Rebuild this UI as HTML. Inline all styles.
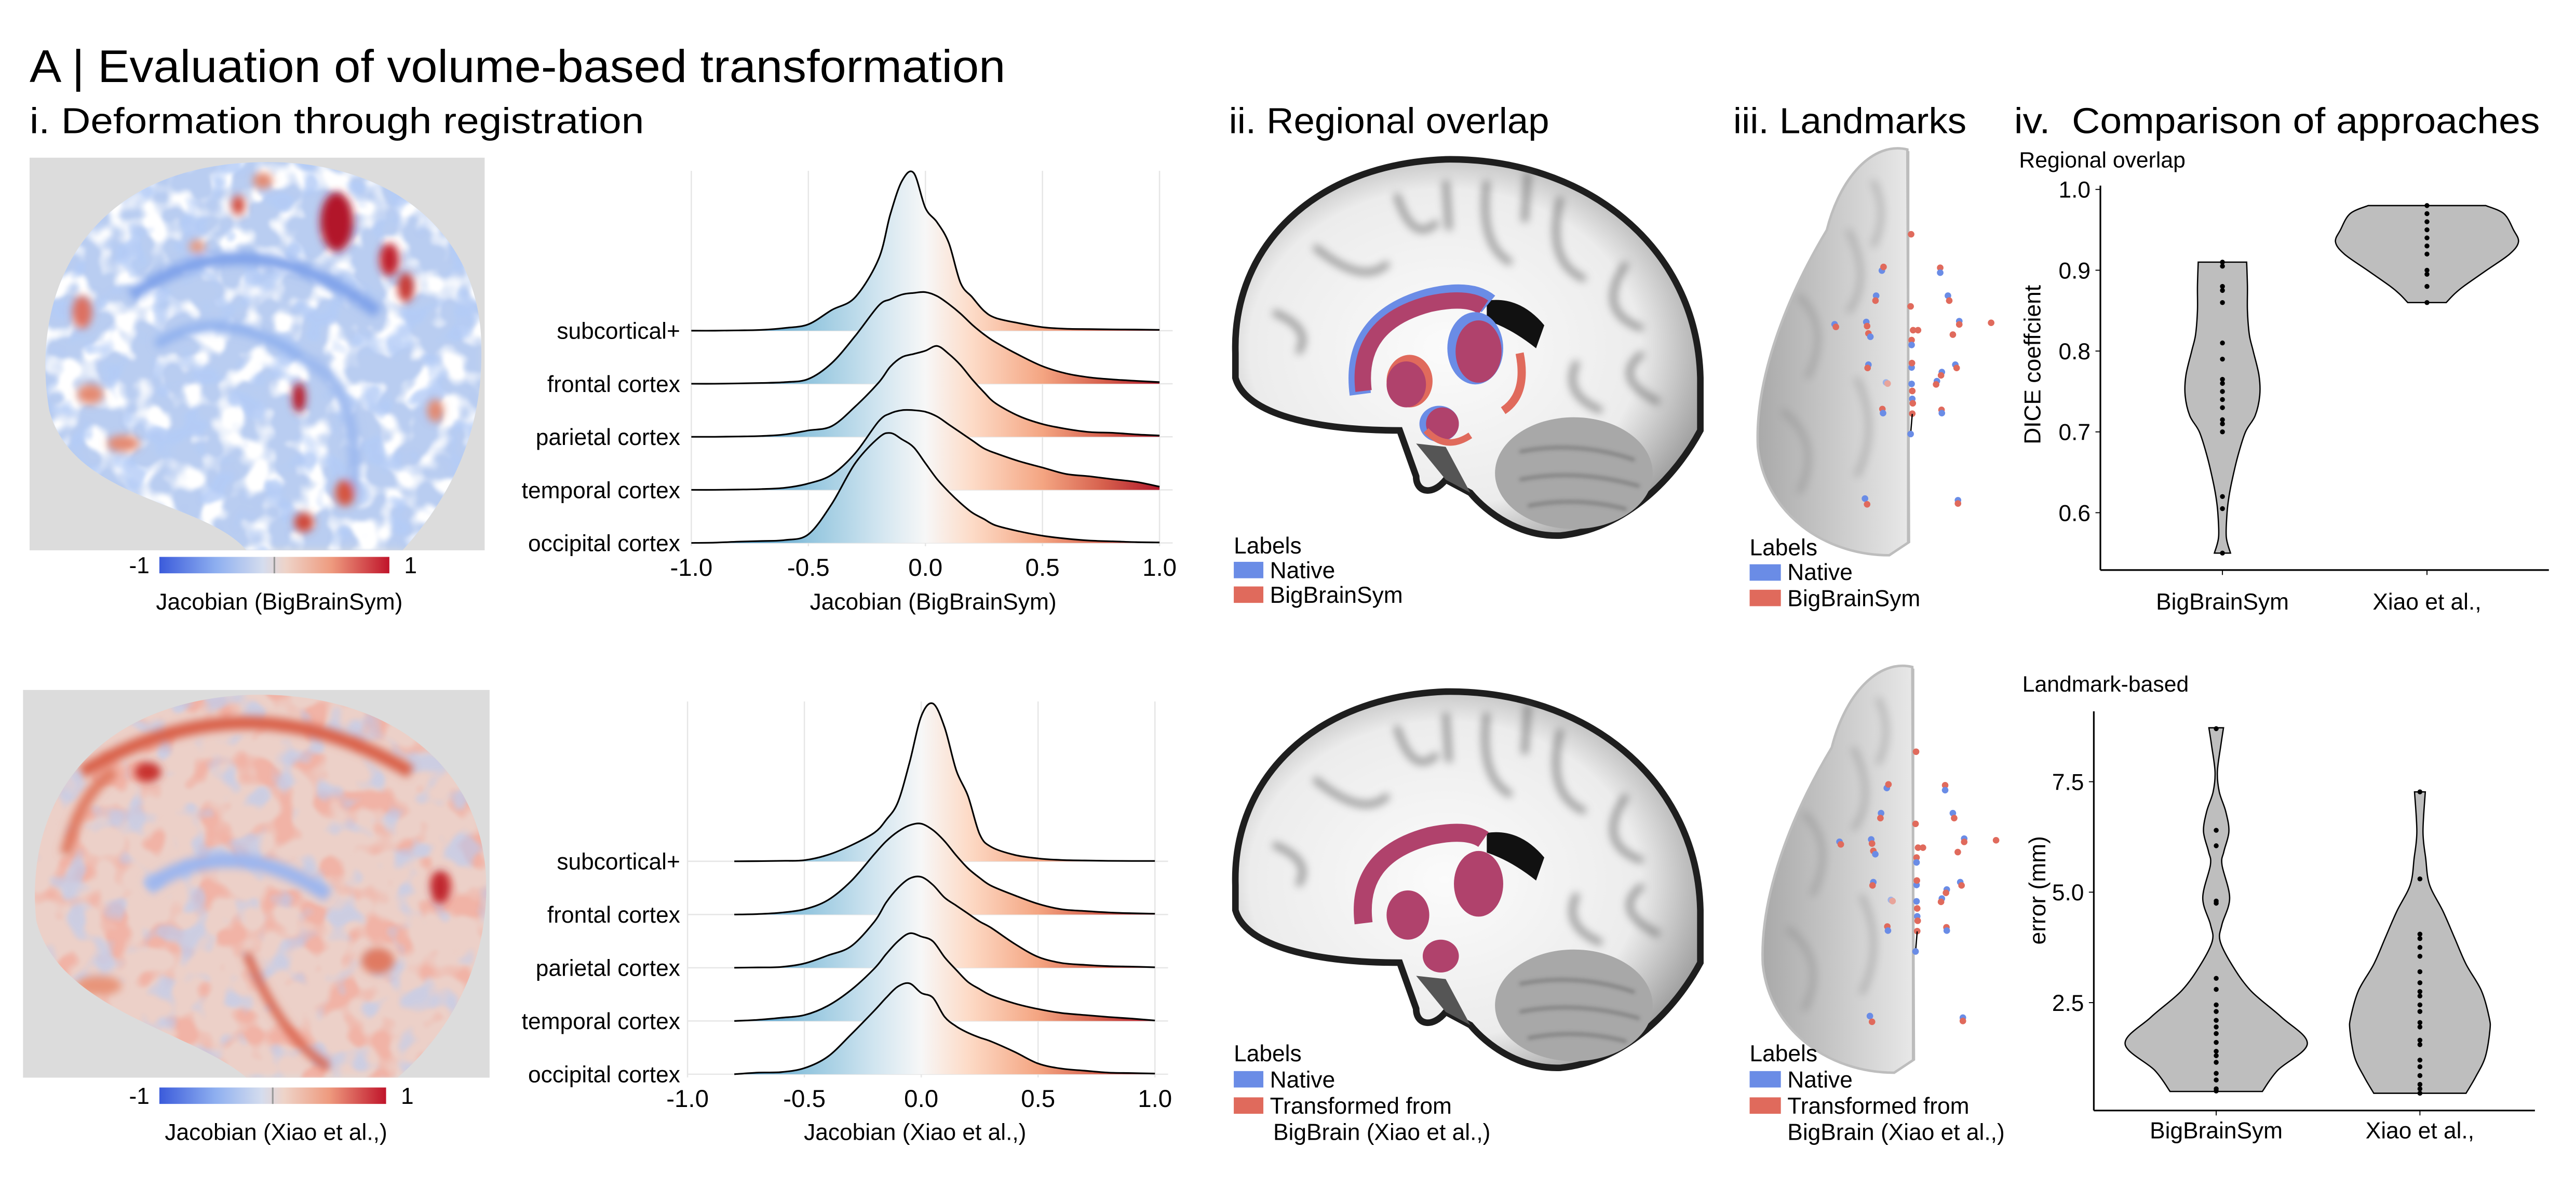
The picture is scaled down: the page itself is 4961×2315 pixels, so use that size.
<!DOCTYPE html>
<html><head><meta charset="utf-8">
<style>
html,body{margin:0;padding:0;background:#fff}
svg{display:block;font-family:"Liberation Sans",sans-serif}
</style></head>
<body>
<svg id="fig" width="4961" height="2315" viewBox="0 0 1568 731.7" xmlns="http://www.w3.org/2000/svg">
<defs>
  <linearGradient id="rgTop" gradientUnits="userSpaceOnUse" x1="420.8" y1="0" x2="705.8" y2="0">
    <stop offset="0" stop-color="#2166ac"/><stop offset="0.12" stop-color="#4393c3"/>
    <stop offset="0.25" stop-color="#92c5de"/><stop offset="0.4" stop-color="#d1e5f0"/>
    <stop offset="0.5" stop-color="#f7f7f7"/><stop offset="0.6" stop-color="#fddbc7"/>
    <stop offset="0.75" stop-color="#f4a582"/><stop offset="0.88" stop-color="#d6604d"/>
    <stop offset="1" stop-color="#b2182b"/>
  </linearGradient>
  <linearGradient id="rgBot" gradientUnits="userSpaceOnUse" x1="418.5" y1="0" x2="703" y2="0">
    <stop offset="0" stop-color="#2166ac"/><stop offset="0.12" stop-color="#4393c3"/>
    <stop offset="0.25" stop-color="#92c5de"/><stop offset="0.4" stop-color="#d1e5f0"/>
    <stop offset="0.5" stop-color="#f7f7f7"/><stop offset="0.6" stop-color="#fddbc7"/>
    <stop offset="0.75" stop-color="#f4a582"/><stop offset="0.88" stop-color="#d6604d"/>
    <stop offset="1" stop-color="#b2182b"/>
  </linearGradient>
  <linearGradient id="cbar" x1="0" y1="0" x2="1" y2="0">
    <stop offset="0" stop-color="#3b5bdb"/><stop offset="0.25" stop-color="#8fb0f0"/>
    <stop offset="0.45" stop-color="#d4dcee"/><stop offset="0.55" stop-color="#eed3c8"/>
    <stop offset="0.75" stop-color="#ee9a7e"/><stop offset="1" stop-color="#c0142a"/>
  </linearGradient>
  <radialGradient id="mriFill" cx="0.45" cy="0.5" r="0.6">
    <stop offset="0" stop-color="#fbfbfb"/><stop offset="0.7" stop-color="#ececec"/><stop offset="1" stop-color="#9a9a9a"/>
  </radialGradient>
  <linearGradient id="lmFill" x1="0" y1="0" x2="1" y2="0">
    <stop offset="0" stop-color="#a9a9a9"/><stop offset="0.6" stop-color="#cfcfcf"/><stop offset="1" stop-color="#e8e8e8"/>
  </linearGradient>
  <filter id="blur2" x="-20%" y="-20%" width="140%" height="140%"><feGaussianBlur stdDeviation="2.5"/></filter>
  <filter id="blur1"><feGaussianBlur stdDeviation="1.2"/></filter>
  <filter id="noiseWhite" x="0" y="0" width="100%" height="100%">
    <feTurbulence type="fractalNoise" baseFrequency="0.06" numOctaves="2" seed="3"/>
    <feColorMatrix type="matrix" values="0 0 0 0 1  0 0 0 0 1  0 0 0 0 1  0 0 0 5 -2.3"/>
    <feGaussianBlur stdDeviation="0.8"/>
  </filter>
  <filter id="noiseBlue" x="0" y="0" width="100%" height="100%">
    <feTurbulence type="fractalNoise" baseFrequency="0.055" numOctaves="2" seed="11"/>
    <feColorMatrix type="matrix" values="0 0 0 0 0.45  0 0 0 0 0.6  0 0 0 0 0.93  0 0 0 6 -3.2"/>
    <feGaussianBlur stdDeviation="0.8"/>
  </filter>
  <filter id="noiseRed" x="0" y="0" width="100%" height="100%">
    <feTurbulence type="fractalNoise" baseFrequency="0.05" numOctaves="2" seed="7"/>
    <feColorMatrix type="matrix" values="0 0 0 0 0.88  0 0 0 0 0.45  0 0 0 0 0.38  0 0 0 6 -3.1"/>
    <feGaussianBlur stdDeviation="0.8"/>
  </filter>
  <clipPath id="hmClipTop"><path d="M30,250 C18,180 50,105 150,99 C235,94 293,140 293,212 C294,262 275,302 245,335 L150,335 C125,305 45,305 30,250 Z"/></clipPath>
  <clipPath id="hmClipBot"><path d="M22,560 C15,490 55,428 150,423 C240,420 296,470 296,540 C296,590 272,630 242,656 L150,656 C118,628 35,615 22,560 Z"/></clipPath>
  <g id="mriBrain">
    <path d="M752,215 C750,150 800,100 880,97 C965,96 1033,150 1035,230 L1035,262 C1020,290 990,322 950,326 C925,327 905,312 895,300 L880,292 C872,302 862,300 862,290 L852,262 C800,262 758,252 752,230 Z" fill="url(#mriFill)" stroke="#1e1e1e" stroke-width="4"/>
    <g filter="url(#blur2)" opacity="0.6" stroke="#5c5c5c" stroke-width="4" fill="none">
      <path d="M800,150 Q830,175 845,160"/><path d="M850,118 Q860,150 875,135"/><path d="M905,110 Q900,150 920,160"/>
      <path d="M950,120 Q940,160 965,170"/><path d="M990,160 Q970,190 1000,200"/><path d="M775,190 Q800,200 790,215"/>
      <path d="M1000,215 Q980,230 1010,245"/><path d="M960,220 Q950,240 975,250"/><path d="M880,110 L882,140"/><path d="M930,105 L928,135"/>
    </g>
    <path d="M905,183 Q925,180 940,198 L935,212 Q920,200 905,195 Z" fill="#111"/>
    <ellipse cx="958" cy="288" rx="48" ry="34" fill="#a8a8a8"/>
    <g filter="url(#blur1)" opacity="0.5" stroke="#555" stroke-width="2" fill="none">
      <path d="M925,275 Q960,268 995,280"/><path d="M925,292 Q960,285 998,296"/><path d="M930,308 Q960,302 990,310"/>
    </g>
    <path d="M862,270 L880,272 L895,300 L880,292 Z" fill="#555"/>
  </g>
  <g id="lmBrain">
    <path d="M1161,91 C1140,86 1120,108 1112,140 C1088,180 1068,230 1070,272 C1074,312 1110,338 1150,338 L1162,330 Z" fill="url(#lmFill)" stroke="#bdbdbd" stroke-width="1.5"/>
    <g filter="url(#blur2)" opacity="0.45" stroke="#7a7a7a" stroke-width="3" fill="none">
      <path d="M1095,180 Q1115,200 1100,230"/><path d="M1125,140 Q1140,170 1125,190"/><path d="M1085,250 Q1110,270 1095,300"/>
      <path d="M1130,230 Q1145,260 1130,290"/><path d="M1140,110 Q1150,130 1140,150"/>
    </g>
    <line x1="1161.5" y1="92" x2="1161.5" y2="330" stroke="#bcbcbc" stroke-width="1.5"/>
  </g>
</defs>

<text x="18" y="50" font-size="28" textLength="594" lengthAdjust="spacingAndGlyphs">A | Evaluation of volume-based transformation</text>
<text x="18" y="81" font-size="22" textLength="374" lengthAdjust="spacingAndGlyphs">i. Deformation through registration</text>
<text x="748" y="81" font-size="22" textLength="195" lengthAdjust="spacingAndGlyphs">ii. Regional overlap</text>
<text x="1055" y="81" font-size="22" textLength="142" lengthAdjust="spacingAndGlyphs">iii. Landmarks</text>
<text x="1226" y="81" font-size="22" textLength="320" lengthAdjust="spacingAndGlyphs" xml:space="preserve">iv.  Comparison of approaches</text>

<g>
  <rect x="18" y="96" width="277" height="239" fill="#dcdcdc"/>
  <g clip-path="url(#hmClipTop)">
    <rect x="18" y="96" width="277" height="239" fill="#b9cdf1" filter="url(#blur2)"/>
    <rect x="18" y="96" width="277" height="239" filter="url(#noiseWhite)"/>
    <rect x="18" y="96" width="277" height="239" filter="url(#noiseBlue)" opacity="0.8"/>
    <g filter="url(#blur2)">
      <path d="M80,180 Q150,130 230,190" stroke="#7fa2ea" stroke-width="8" fill="none"/>
      <path d="M95,210 Q140,180 200,230" stroke="#8fb0ee" stroke-width="6" fill="none"/>
      <path d="M190,220 Q220,240 215,300" stroke="#9db9ef" stroke-width="7" fill="none"/>
      <ellipse cx="205" cy="135" rx="10" ry="18" fill="#b2182b"/>
      <ellipse cx="237" cy="158" rx="6" ry="10" fill="#c0242e"/>
      <ellipse cx="247" cy="175" rx="5" ry="9" fill="#c83a36"/>
      <ellipse cx="182" cy="242" rx="4" ry="9" fill="#b81e2c"/>
      <ellipse cx="145" cy="125" rx="4" ry="6" fill="#d24c3c"/>
      <ellipse cx="50" cy="190" rx="6" ry="10" fill="#dd7060"/>
      <ellipse cx="55" cy="240" rx="8" ry="6" fill="#e48a72"/>
      <ellipse cx="75" cy="270" rx="10" ry="5" fill="#e48a72"/>
      <ellipse cx="210" cy="300" rx="6" ry="8" fill="#d5553f"/>
      <ellipse cx="185" cy="318" rx="6" ry="6" fill="#cf4a3a"/>
      <ellipse cx="120" cy="150" rx="5" ry="4" fill="#e59a82"/>
      <ellipse cx="265" cy="250" rx="5" ry="7" fill="#e28a72"/>
      <ellipse cx="160" cy="110" rx="6" ry="5" fill="#e28a72"/>
    </g>
  </g>
</g>
<rect x="97" y="339" width="140" height="10" fill="url(#cbar)"/>
<line x1="167" y1="339" x2="167" y2="349" stroke="#999" stroke-width="1"/>
<text x="91" y="349" font-size="14" text-anchor="end">-1</text>
<text x="246" y="349" font-size="14">1</text>
<text x="170" y="371" font-size="14" text-anchor="middle">Jacobian (BigBrainSym)</text>

<g>
  <rect x="14" y="420" width="284" height="236" fill="#dcdcdc"/>
  <g clip-path="url(#hmClipBot)">
    <rect x="14" y="420" width="284" height="236" fill="#ecd0c8" filter="url(#blur2)"/>
    <rect x="14" y="420" width="284" height="236" filter="url(#noiseRed)"/>
    <rect x="14" y="420" width="284" height="236" filter="url(#noiseBlue)" opacity="0.55"/>
    <g filter="url(#blur2)">
      <path d="M50,470 Q150,410 250,470" stroke="#d9604a" stroke-width="8" fill="none"/>
      <path d="M40,520 Q50,480 70,470" stroke="#e07a62" stroke-width="7" fill="none"/>
      <path d="M90,540 Q140,505 200,545" stroke="#9db6ee" stroke-width="9" fill="none"/>
      <ellipse cx="268" cy="540" rx="6" ry="10" fill="#c0262e"/>
      <ellipse cx="90" cy="470" rx="8" ry="6" fill="#c8322f"/>
      <path d="M150,580 Q170,630 200,650" stroke="#d9604a" stroke-width="5" fill="none"/>
      <ellipse cx="60" cy="600" rx="14" ry="6" fill="#e8957a"/>
      <ellipse cx="230" cy="585" rx="10" ry="8" fill="#e07a62"/>
    </g>
  </g>
</g>
<rect x="97" y="662" width="138" height="10" fill="url(#cbar)"/>
<line x1="166" y1="662" x2="166" y2="672" stroke="#999" stroke-width="1"/>
<text x="91" y="672" font-size="14" text-anchor="end">-1</text>
<text x="244" y="672" font-size="14">1</text>
<text x="168" y="694" font-size="14" text-anchor="middle">Jacobian (Xiao et al.,)</text>

<g id="ridgeTopG"></g>
<g id="ridgeBotG"></g>

<g>
  <use href="#mriBrain"/>
  <path d="M828,240 Q822,195 870,182 Q895,176 906,185" stroke="#6a8ce6" stroke-width="13" fill="none"/>
  <path d="M830,238 Q825,197 870,185 Q893,180 903,187" stroke="#b0426c" stroke-width="10" fill="none"/>
  <ellipse cx="898" cy="212" rx="17" ry="22" fill="#6a8ce6"/>
  <ellipse cx="900" cy="214" rx="14" ry="19" fill="#b0426c"/>
  <ellipse cx="858" cy="232" rx="14" ry="16" fill="#e06a5c"/>
  <ellipse cx="856" cy="234" rx="12" ry="14" fill="#b0426c"/>
  <path d="M925,215 Q930,240 915,250" stroke="#e06a5c" stroke-width="5" fill="none"/>
  <ellipse cx="876" cy="258" rx="12" ry="11" fill="#6a8ce6"/>
  <ellipse cx="878" cy="258" rx="10" ry="10" fill="#b0426c"/>
  <path d="M868,262 Q880,275 895,265" stroke="#e06a5c" stroke-width="4" fill="none"/>
</g>
<g transform="translate(0,324)">
  <use href="#mriBrain"/>
  <path d="M830,238 Q825,197 870,185 Q893,180 903,187" stroke="#b0426c" stroke-width="11" fill="none"/>
  <ellipse cx="900" cy="214" rx="15" ry="20" fill="#b0426c"/>
  <ellipse cx="857" cy="233" rx="13" ry="15" fill="#b0426c"/>
  <ellipse cx="877" cy="258" rx="11" ry="10" fill="#b0426c"/>
</g>

<g>
  <use href="#lmBrain"/>
  <g id="lmPts">
    <circle cx="1163.3" cy="142.6" r="2" fill="#e06a5c"/>
    <circle cx="1181" cy="163" r="2" fill="#e06a5c"/><circle cx="1181" cy="166" r="2" fill="#6a8ce6"/>
    <circle cx="1145.5" cy="164.7" r="2" fill="#6a8ce6"/><circle cx="1146.5" cy="162.5" r="2" fill="#e06a5c"/>
    <circle cx="1142" cy="180" r="2" fill="#6a8ce6"/><circle cx="1141.6" cy="183" r="2" fill="#e06a5c"/>
    <circle cx="1185.7" cy="180" r="2" fill="#6a8ce6"/><circle cx="1186.5" cy="183" r="2" fill="#e06a5c"/>
    <circle cx="1163" cy="186.5" r="2" fill="#e06a5c"/>
    <circle cx="1116.7" cy="197.4" r="2" fill="#6a8ce6"/><circle cx="1117.5" cy="199" r="2" fill="#e06a5c"/>
    <circle cx="1136" cy="196" r="2" fill="#6a8ce6"/><circle cx="1136.5" cy="198.5" r="2" fill="#e06a5c"/>
    <circle cx="1192.6" cy="195.5" r="2" fill="#6a8ce6"/><circle cx="1192.6" cy="197.5" r="2" fill="#e06a5c"/>
    <circle cx="1212" cy="196.5" r="2" fill="#e06a5c"/>
    <circle cx="1137.3" cy="203" r="2" fill="#e06a5c"/><circle cx="1138.5" cy="205" r="2" fill="#6a8ce6"/>
    <circle cx="1164.5" cy="201" r="2" fill="#e06a5c"/><circle cx="1167.5" cy="201" r="2" fill="#e06a5c"/>
    <circle cx="1188.7" cy="203.7" r="2" fill="#e06a5c"/>
    <circle cx="1163.6" cy="207" r="2" fill="#e06a5c"/><circle cx="1163.6" cy="210" r="2" fill="#6a8ce6"/>
    <circle cx="1137.3" cy="222" r="2" fill="#6a8ce6"/><circle cx="1136.8" cy="224" r="2" fill="#e06a5c"/>
    <circle cx="1190.2" cy="222" r="2" fill="#6a8ce6"/><circle cx="1191" cy="224" r="2" fill="#e06a5c"/>
    <circle cx="1163.6" cy="223.7" r="2" fill="#6a8ce6"/><circle cx="1163.8" cy="221" r="2" fill="#e06a5c"/>
    <circle cx="1182" cy="226.5" r="2" fill="#6a8ce6"/><circle cx="1181.5" cy="228.5" r="2" fill="#e06a5c"/>
    <circle cx="1179" cy="232" r="2" fill="#6a8ce6"/><circle cx="1178.5" cy="234" r="2" fill="#e06a5c"/>
    <circle cx="1148" cy="232.8" r="2" fill="#9fb3e8"/><circle cx="1149" cy="233.5" r="2" fill="#e8a49a"/>
    <circle cx="1163.6" cy="233.7" r="2" fill="#6a8ce6"/>
    <circle cx="1164" cy="238" r="2" fill="#e06a5c"/>
    <circle cx="1164" cy="242.8" r="2" fill="#6a8ce6"/><circle cx="1164.3" cy="245.5" r="2" fill="#e06a5c"/>
    <circle cx="1181.8" cy="249.5" r="2" fill="#e06a5c"/><circle cx="1182" cy="251.5" r="2" fill="#6a8ce6"/>
    <circle cx="1145.8" cy="249" r="2" fill="#e06a5c"/><circle cx="1146.2" cy="251.5" r="2" fill="#6a8ce6"/>
    <circle cx="1164" cy="251.8" r="2" fill="#e06a5c"/>
    <line x1="1164" y1="252" x2="1163" y2="264" stroke="#000" stroke-width="0.8"/>
    <circle cx="1163" cy="264.2" r="2" fill="#6a8ce6"/>
    <circle cx="1135.2" cy="303.5" r="2" fill="#6a8ce6"/><circle cx="1136.5" cy="307" r="2" fill="#e06a5c"/>
    <circle cx="1191.8" cy="304.5" r="2" fill="#6a8ce6"/><circle cx="1191.8" cy="306.5" r="2" fill="#e06a5c"/>
  </g>
</g>
<g transform="translate(3,315)">
  <use href="#lmBrain"/>
  <use href="#lmPts"/>
</g>

<g font-size="14">
  <text x="751" y="337">Labels</text>
  <rect x="751" y="342" width="18" height="10" fill="#6a8ce6"/>
  <text x="773" y="352">Native</text>
  <rect x="751" y="357" width="18" height="10" fill="#e06a5c"/>
  <text x="773" y="367">BigBrainSym</text>
</g>
<g font-size="14">
  <text x="1065" y="338">Labels</text>
  <rect x="1065" y="343.5" width="19" height="10" fill="#6a8ce6"/>
  <text x="1088" y="353">Native</text>
  <rect x="1065" y="359" width="19" height="10" fill="#e06a5c"/>
  <text x="1088" y="369">BigBrainSym</text>
</g>
<g font-size="14">
  <text x="751" y="646">Labels</text>
  <rect x="751" y="652" width="18" height="10" fill="#6a8ce6"/>
  <text x="773" y="662">Native</text>
  <rect x="751" y="668" width="18" height="10" fill="#e06a5c"/>
  <text x="773" y="678">Transformed from</text>
  <text x="775" y="694">BigBrain (Xiao et al.,)</text>
</g>
<g font-size="14">
  <text x="1065" y="646">Labels</text>
  <rect x="1065" y="652" width="19" height="10" fill="#6a8ce6"/>
  <text x="1088" y="662">Native</text>
  <rect x="1065" y="668" width="19" height="10" fill="#e06a5c"/>
  <text x="1088" y="678">Transformed from</text>
  <text x="1088" y="694">BigBrain (Xiao et al.,)</text>
</g>

<g id="violinTopG"></g>
<g id="violinBotG"></g>
</svg>

<script>
const ridgeX = [-1,-0.9,-0.8,-0.7,-0.6,-0.5,-0.4,-0.3,-0.2,-0.15,-0.1,-0.05,0,0.05,0.1,0.15,0.2,0.25,0.3,0.4,0.5,0.6,0.7,0.8,0.9,1.0];
const ridgeCategories = ['subcortical+','frontal cortex','parietal cortex','temporal cortex','occipital cortex'];
const ridgeTicks = [-1,-0.5,0,0.5,1];
const ridgeTickLabels = ['-1.0','-0.5','0.0','0.5','1.0'];
const topSubcortical = [0,0,0.002,0.005,0.017,0.04,0.13,0.21,0.45,0.73,0.94,0.99,0.77,0.68,0.55,0.3,0.21,0.125,0.08,0.047,0.022,0.012,0.01,0.008,0.007,0.005];
const topFrontal = [0,0,0.002,0.005,0.01,0.03,0.13,0.3,0.49,0.53,0.56,0.57,0.575,0.55,0.5,0.44,0.37,0.31,0.26,0.18,0.11,0.065,0.04,0.027,0.018,0.01];
const topParietal = [0,0,0.002,0.005,0.015,0.04,0.067,0.19,0.34,0.44,0.5,0.52,0.54,0.57,0.52,0.45,0.36,0.28,0.21,0.13,0.08,0.05,0.03,0.025,0.015,0.008];
const topTemporal = [0,0,0.002,0.005,0.013,0.04,0.095,0.23,0.43,0.48,0.5,0.5,0.49,0.46,0.41,0.36,0.31,0.26,0.23,0.18,0.14,0.1,0.085,0.067,0.05,0.02];
const topOccipital = [0,0.002,0.008,0.012,0.018,0.054,0.245,0.5,0.66,0.69,0.65,0.6,0.5,0.4,0.32,0.25,0.19,0.15,0.11,0.073,0.045,0.027,0.015,0.01,0.005,0.003];
const botSubcortical = [null,null,0,0.001,0.003,0.007,0.04,0.1,0.18,0.26,0.37,0.62,0.91,0.99,0.84,0.57,0.41,0.17,0.09,0.04,0.018,0.008,0.005,0.003,0.002,0.002];
const botFrontal = [null,null,0,0.003,0.012,0.033,0.09,0.21,0.38,0.46,0.52,0.56,0.57,0.53,0.46,0.37,0.29,0.23,0.18,0.12,0.067,0.033,0.022,0.013,0.008,0.005];
const botParietal = [null,null,0,0.002,0.005,0.027,0.077,0.135,0.29,0.41,0.5,0.56,0.57,0.52,0.44,0.39,0.34,0.29,0.25,0.15,0.068,0.03,0.018,0.01,0.007,0.003];
const botTemporal = [null,null,0,0.007,0.02,0.037,0.095,0.195,0.33,0.42,0.5,0.55,0.53,0.5,0.4,0.32,0.245,0.2,0.16,0.11,0.075,0.05,0.037,0.025,0.015,0.003];
const botOccipital = [null,null,0,0.01,0.013,0.038,0.11,0.25,0.4,0.48,0.55,0.57,0.51,0.48,0.36,0.3,0.26,0.23,0.205,0.14,0.067,0.035,0.022,0.01,0.007,0.004];

const violinCategories = ['BigBrainSym','Xiao et al.,'];
const diceTicks = [0.6,0.7,0.8,0.9,1.0];
const diceTickLabels = ['0.6','0.7','0.8','0.9','1.0'];
const diceBBSLevels = [0.91,0.88,0.85,0.82,0.8,0.77,0.745,0.72,0.7,0.67,0.64,0.62,0.6,0.57,0.55];
const diceBBSDensity = [0.63,0.65,0.65,0.7,0.8,0.95,0.97,0.85,0.6,0.4,0.25,0.17,0.12,0.1,0.21];
const diceXiaoLevels = [0.98,0.97,0.95,0.935,0.92,0.9,0.88,0.87,0.86];
const diceXiaoDensity = [1.53,2.0,2.25,2.38,2.15,1.55,0.95,0.7,0.5];
const diceBBSPoints = [0.91,0.905,0.88,0.875,0.86,0.81,0.79,0.765,0.76,0.75,0.74,0.73,0.715,0.71,0.70,0.62,0.605,0.55];
const diceXiaoPoints = [0.98,0.97,0.96,0.95,0.94,0.93,0.92,0.90,0.895,0.88,0.86];
const errTicks = [2.5,5.0,7.5];
const errTickLabels = ['2.5','5.0','7.5'];
const errBBSLevels = [8.72,8.32,7.72,7.27,6.82,6.37,5.92,5.62,4.87,4.27,3.9,3.37,2.77,2.17,1.57,0.97,0.49];
const errBBSDensity = [0.19,0.12,0.03,0.08,0.25,0.33,0.2,0.15,0.35,0.15,0.1,0.4,0.9,1.7,2.37,1.6,1.2];
const errXiaoLevels = [7.27,6.37,5.77,5.17,4.57,3.97,3.37,2.77,2.17,1.87,1.27,0.82,0.45];
const errXiaoDensity = [0.14,0.08,0.15,0.25,0.6,0.9,1.2,1.6,1.8,1.82,1.7,1.45,1.2];
const errBBSPoints = [8.7,6.4,6.05,4.8,4.75,3.05,2.8,2.45,2.3,2.1,1.95,1.8,1.6,1.4,1.3,1.15,0.9,0.75,0.55,0.5];
const errXiaoPoints = [7.27,5.3,4.05,3.95,3.75,3.55,3.2,2.95,2.75,2.65,2.45,2.3,2.05,1.95,1.65,1.55,1.2,1.05,0.85,0.65,0.55,0.45];

const NS = 'http://www.w3.org/2000/svg';
function mk(parent, tag, attrs, txt) {
  const e = document.createElementNS(NS, tag);
  for (const k in attrs) e.setAttribute(k, attrs[k]);
  if (txt !== undefined) e.textContent = txt;
  parent.appendChild(e);
  return e;
}
function smooth(pts) {
  let d = 'M' + pts[0][0].toFixed(2) + ',' + pts[0][1].toFixed(2);
  for (let i = 0; i < pts.length - 1; i++) {
    const p0 = pts[i - 1] || pts[i], p1 = pts[i], p2 = pts[i + 1], p3 = pts[i + 2] || p2;
    const c1x = p1[0] + (p2[0] - p0[0]) / 6, c1y = p1[1] + (p2[1] - p0[1]) / 6;
    const c2x = p2[0] - (p3[0] - p1[0]) / 6, c2y = p2[1] - (p3[1] - p1[1]) / 6;
    d += 'C' + c1x.toFixed(2) + ',' + c1y.toFixed(2) + ' ' + c2x.toFixed(2) + ',' + c2y.toFixed(2) + ' ' + p2[0].toFixed(2) + ',' + p2[1].toFixed(2);
  }
  return d;
}

function drawRidge(g, series, x0, x1, base0, step, gridTop, grad, title, titleX, titleY) {
  const xs = v => x0 + (v + 1) / 2 * (x1 - x0);
  const base = i => base0 + i * step;
  const hs = d => d * 97;
  ridgeTicks.forEach((t, i) => {
    const l = mk(g, 'line', {x1: xs(t), x2: xs(t), y1: gridTop, y2: base(4) + 2, stroke: '#e6e6e6', 'stroke-width': 0.8});
    
    
    const tl = mk(g, 'text', {x: xs(t), y: base(4) + 20, 'font-size': 15, 'text-anchor': 'middle'}, ridgeTickLabels[i]);
    
    
  });
  ridgeCategories.forEach((c, i) => {
    const l = mk(g, 'line', {x1: x0, x2: x1 + 8, y1: base(i), y2: base(i), stroke: '#e6e6e6', 'stroke-width': 0.8});
    
    
    const t = mk(g, 'text', {x: 414, y: base(i) + 5, 'font-size': 14, 'text-anchor': 'end'}, c);
    
    
  });
  series.forEach((vals, i) => {
    const pts = [];
    ridgeX.forEach((x, j) => { if (vals[j] !== null) pts.push([xs(x), base(i) - hs(vals[j])]); });
    const line = smooth(pts);
    const f = mk(g, 'path', {d: line + 'L' + pts[pts.length - 1][0] + ',' + base(i) + 'L' + pts[0][0] + ',' + base(i) + 'Z', fill: 'url(#' + grad + ')', stroke: 'none'});
    
    
    const s = mk(g, 'path', {d: line, fill: 'none', stroke: '#000', 'stroke-width': 1});
    
    
  });
  const at = mk(g, 'text', {x: titleX, y: titleY, 'font-size': 14, 'text-anchor': 'middle'}, title);
  
  
}
drawRidge(document.getElementById('ridgeTopG'), [topSubcortical, topFrontal, topParietal, topTemporal, topOccipital], 420.8, 705.8, 201.3, 32.3, 104, 'rgTop', 'Jacobian (BigBrainSym)', 568, 371);
drawRidge(document.getElementById('ridgeBotG'), [botSubcortical, botFrontal, botParietal, botTemporal, botOccipital], 418.5, 703, 524.3, 32.4, 427, 'rgBot', 'Jacobian (Xiao et al.,)', 557, 694);

function drawViolin(g, cfg) {
  const ys = cfg.ys;
  const ya = mk(g, 'line', {x1: cfg.ax, x2: cfg.ax, y1: cfg.axTop, y2: cfg.axBot, stroke: '#000', 'stroke-width': 1});
  
  
  const xa = mk(g, 'line', {x1: cfg.ax, x2: cfg.axRight, y1: cfg.axBot, y2: cfg.axBot, stroke: '#000', 'stroke-width': 1});
  
  
  cfg.ticks.forEach((t, i) => {
    const tk = mk(g, 'line', {x1: cfg.ax - 3, x2: cfg.ax, y1: ys(t), y2: ys(t), stroke: '#000', 'stroke-width': 0.6});
    
    
    const tl = mk(g, 'text', {x: cfg.ax - 6, y: ys(t) + 5, 'font-size': 14, 'text-anchor': 'end'}, cfg.tickLabels[i]);
    
    
  });
  violinCategories.forEach((c, i) => {
    const cx = cfg.cx[i];
    const lv = cfg.levels[i], dn = cfg.density[i];
    const right = lv.map((v, j) => [cx + dn[j] * 23.4, ys(v)]);
    const left = lv.slice().reverse().map((v, j) => [cx - dn[dn.length - 1 - j] * 23.4, ys(v)]);
    const dR = smooth(right);
    const dL = smooth(left).replace(/^M/, 'L');
    const p = mk(g, 'path', {d: dR + dL + 'Z', fill: '#bebebe', stroke: '#000', 'stroke-width': 0.8});
    
    
    cfg.points[i].forEach(v => {
      const d = mk(g, 'circle', {cx: cx, cy: ys(v), r: 1.5, fill: '#000'});
      
      
    });
    const tk = mk(g, 'line', {x1: cx, x2: cx, y1: cfg.axBot, y2: cfg.axBot + 3, stroke: '#000', 'stroke-width': 0.6});
    
    
    const cl = mk(g, 'text', {x: cx, y: cfg.labelY, 'font-size': 14, 'text-anchor': 'middle'}, c);
    
    
  });
  const tt = mk(g, 'text', {x: cfg.titleX, y: cfg.titleY, 'font-size': 13.5}, cfg.title);
  
  
  const yt = mk(g, 'text', {x: 0, y: 0, 'font-size': 14, 'text-anchor': 'middle', transform: 'translate(' + cfg.ytX + ',' + cfg.ytY + ') rotate(-90)'}, cfg.yTitle);
  
  
}
drawViolin(document.getElementById('violinTopG'), {
  ys: v => 115.3 + (1.0 - v) * 492,
  ax: 1278.5, axTop: 113, axBot: 347, axRight: 1551.5,
  ticks: diceTicks, tickLabels: diceTickLabels,
  cx: [1352.8, 1477.3],
  levels: [diceBBSLevels, diceXiaoLevels], density: [diceBBSDensity, diceXiaoDensity],
  points: [diceBBSPoints, diceXiaoPoints],
  labelY: 371, title: 'Regional overlap', titleX: 1229, titleY: 102,
  yTitle: 'DICE coeffcient', ytX: 1242, ytY: 222
});
drawViolin(document.getElementById('violinBotG'), {
  ys: v => 677.6 - v * 26.9,
  ax: 1274.5, axTop: 433, axBot: 676, axRight: 1543,
  ticks: errTicks, tickLabels: errTickLabels,
  cx: [1349, 1473],
  levels: [errBBSLevels, errXiaoLevels], density: [errBBSDensity, errXiaoDensity],
  points: [errBBSPoints, errXiaoPoints],
  labelY: 693, title: 'Landmark-based', titleX: 1231, titleY: 421,
  yTitle: 'error (mm)', ytX: 1245, ytY: 542
});
</script>
</body></html>
